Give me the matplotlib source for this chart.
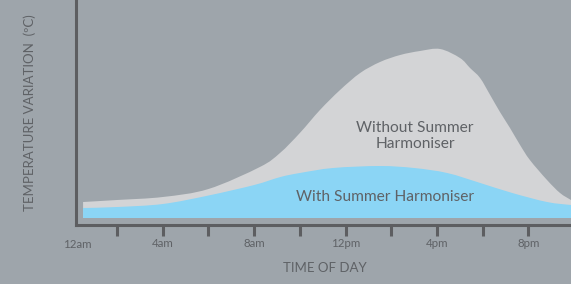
import matplotlib
matplotlib.use("Agg")
import matplotlib.pyplot as plt
from matplotlib.path import Path
from matplotlib.patches import PathPatch

# Data (hours after midnight, relative temperature variation)
hours_without = [0.51, 2, 4, 6, 8.25, 9.13, 10.0, 10.88, 11.76, 12.64, 13.51, 14.39, 15.26, 16.14,
                 17.01, 17.45, 17.89, 18.33, 18.76, 19.2, 19.64, 20.07, 20.82, 21.39, 21.87]
without_vals = [16, 18, 21, 29, 51, 65, 85, 108, 128, 145, 156, 163, 167, 169,
                160, 150, 140, 123, 106, 90, 73, 58, 38, 25, 18]

hours_with = [0.51, 2, 4, 6, 8, 9.15, 10, 11.45, 13.5, 15, 16.45, 17.9, 19.3, 20.82, 21.87]
with_vals = [10, 11, 14, 22.5, 33, 41, 45, 50, 52, 50, 45, 35, 25, 16, 13]

tick_hours = [2, 4, 6, 8, 10, 12, 14, 16, 18, 20]
tick_labels = ["", "4am", "", "8am", "", "12pm", "", "4pm", "", "8pm"]
first_label = "12am"

BG = "#9ea5ab"
GRAY = "#d3d4d6"
BLUE = "#8bd5f5"
DARK = "#5d5e61"
TEXT = "#5f6266"
FONT = ["Lato", "DejaVu Sans"]


def smooth_area(xs, ys):
    """Closed area path under a Catmull-Rom curve through the given points."""
    verts = [(xs[0], 0), (xs[0], ys[0])]
    codes = [Path.MOVETO, Path.LINETO]
    n = len(xs)
    for i in range(n - 1):
        p0 = (xs[i - 1], ys[i - 1]) if i > 0 else (xs[i], ys[i])
        p1 = (xs[i], ys[i])
        p2 = (xs[i + 1], ys[i + 1])
        p3 = (xs[i + 2], ys[i + 2]) if i + 2 < n else p2
        c1 = (p1[0] + (p2[0] - p0[0]) / 6, p1[1] + (p2[1] - p0[1]) / 6)
        c2 = (p2[0] - (p3[0] - p1[0]) / 6, p2[1] - (p3[1] - p1[1]) / 6)
        verts += [c1, c2, p2]
        codes += [Path.CURVE4] * 3
    verts += [(xs[-1], 0), (xs[0], 0)]
    codes += [Path.LINETO, Path.CLOSEPOLY]
    return Path(verts, codes)


fig = plt.figure(figsize=(5.71, 2.84), dpi=100, facecolor=BG)
W, H = 571, 284
ax = fig.add_axes([76 / W, (H - 224.5) / H, (W - 76) / W, 224.5 / H])
ax.set_facecolor(BG)

ax.add_patch(PathPatch(smooth_area(hours_without, without_vals), facecolor=GRAY, lw=0))
ax.add_patch(PathPatch(smooth_area(hours_with, with_vals), facecolor=BLUE, lw=0))

ax.set_xlim(0.2, 21.87)
ax.set_ylim(-6.5, 218)

for s in ["top", "right"]:
    ax.spines[s].set_visible(False)
for s in ["left", "bottom"]:
    ax.spines[s].set_color(DARK)
    ax.spines[s].set_linewidth(2.2)

ax.set_yticks([])
ax.set_xticks(tick_hours)
ax.set_xticklabels(tick_labels, fontfamily=FONT, fontsize=8.3, color=TEXT)
ax.tick_params(axis="x", direction="out", length=8, width=2.2, color=DARK, pad=2)

fig.text(77 / W, 1 - 245 / H, first_label, ha="center", va="center",
         fontfamily=FONT, fontsize=8.3, color=TEXT)

fig.text(325 / W, 1 - 268 / H, "TIME OF DAY", ha="center", va="center",
         fontfamily=FONT, fontsize=9.5, color=TEXT)
fig.text(30 / W, 1 - 113 / H, "TEMPERATURE VARIATION  (ºC)", ha="center", va="center",
         rotation=90, fontfamily=FONT, fontsize=9.5, color=TEXT)

fig.text(415 / W, 1 - 136 / H, "Without Summer\nHarmoniser", ha="center", va="center",
         fontfamily=FONT, fontsize=11.2, color=TEXT, linespacing=1.2)
fig.text(385 / W, 1 - 197 / H, "With Summer Harmoniser", ha="center", va="center",
         fontfamily=FONT, fontsize=11.2, color=TEXT)

fig.savefig("out.png", dpi=100, facecolor=BG)
